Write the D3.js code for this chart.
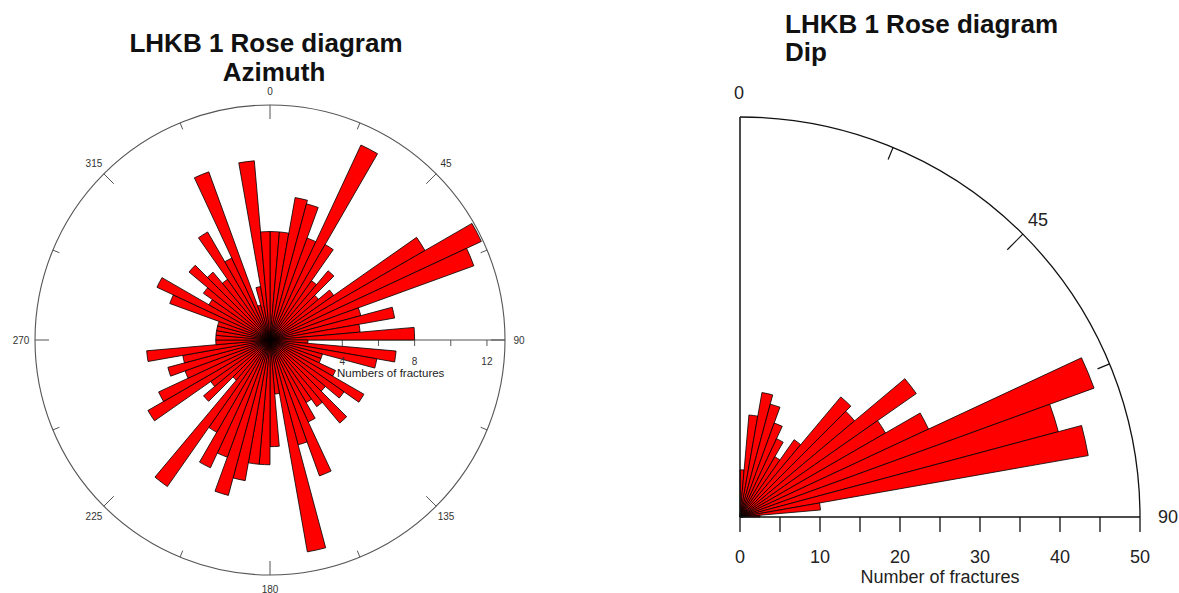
<!DOCTYPE html>
<html>
<head>
<meta charset="utf-8">
<script src="https://cdn.jsdelivr.net/npm/d3@7"></script>
<style>
  body { margin: 0; background: #fff; }
  svg { display: block; }
  text { font-family: "Liberation Sans", Arial, Helvetica, sans-serif; }
</style>
</head>
<body>
<svg id="chart" width="1179" height="593"></svg>
<script>
// ---- Azimuth rose: 5-degree bins, start angle of each bin (degrees from north) ----
const azimuthBins = [
  0, 5, 10, 15, 20, 25, 30, 35, 40, 45, 50, 55,
  60, 65, 70, 75, 80, 85, 90, 95, 100, 105, 110, 115,
  120, 125, 130, 135, 140, 145, 150, 155, 160, 165, 170, 175,
  180, 185, 190, 195, 200, 205, 210, 215, 220, 225, 230, 235,
  240, 245, 250, 255, 260, 265, 270, 275, 280, 285, 290, 295,
  300, 305, 310, 315, 320, 325, 330, 335, 340, 345, 350, 355
];
// Number of fractures in each azimuth bin
const azimuthCounts = [
  6.0, 6.0, 8.0, 7.8, 6.0, 11.9, 6.1, 4.0, 5.0, 3.5, 4.3, 9.9,
  12.9, 12.0, 5.2, 7.0, 5.0, 8.0, 2.1, 7.0, 6.0, 3.0, 3.0, 4.0,
  6.0, 5.0, 4.0, 6.0, 4.5, 4.0, 5.0, 8.0, 6.0, 11.9, 3.0, 5.9,
  6.9, 6.9, 7.9, 8.9, 6.9, 7.8, 5.9, 9.9, 2.9, 4.8, 4.0, 7.8,
  6.8, 5.0, 5.85, 4.9, 6.85, 3.0, 3.0, 3.0, 3.0, 3.0, 5.9, 6.9,
  3.9, 4.5, 5.85, 4.9, 4.1, 6.9, 5.0, 9.9, 2.0, 3.0, 9.95, 6.0
];
const azimuthBinWidth = 5;
const azimuthLabels = [0, 45, 90, 135, 180, 225, 270, 315];
const azimuthMinorTicks = [22.5, 67.5, 112.5, 157.5, 202.5, 247.5, 292.5, 337.5];
const countTicks = [4, 6, 8, 10, 12];
const countTickLabels = [4, 8, 12];

// ---- Dip rose: 5-degree bins from vertical (0) to horizontal (90) ----
const dipBins = [0, 5, 10, 15, 20, 25, 30, 35, 40, 45, 50, 55, 60, 65, 70, 75, 80, 85];
const dipCounts = [5.9, 12.8, 15.8, 14.6, 12.5, 10.8, 8.7, 11.8, 19.6, 18.7, 26.9, 21.0, 26.0, 47.1, 41.2, 44.2, 10.1, 2.5];
const dipBinWidth = 5;
const dipAngleLabels = [0, 45, 90];
const dipAngleTicks = [22.5, 45, 67.5];
const dipCountTicks = [0, 5, 10, 15, 20, 25, 30, 35, 40, 45, 50];
const dipCountLabels = [0, 10, 20, 30, 40, 50];

const svg = d3.select("#chart");
const rad = d => d * Math.PI / 180;

const BAR_FILL = "#ff0000";
const BAR_STROKE = "#000000";

// ================= Azimuth rose =================
(function () {
  const cx = 270, cy = 340, R = 235;
  const r = d3.scaleLinear().domain([0, 13]).range([0, R]);
  const g = svg.append("g").attr("transform", `translate(${cx},${cy})`);

  svg.append("text").attr("x", 266).attr("y", 52)
    .attr("text-anchor", "middle").attr("font-size", 26).attr("font-weight", "bold")
    .attr("fill", "#111").text("LHKB 1 Rose diagram");
  svg.append("text").attr("x", 274).attr("y", 81)
    .attr("text-anchor", "middle").attr("font-size", 26).attr("font-weight", "bold")
    .attr("fill", "#111").text("Azimuth");

  // outer circle
  g.append("circle").attr("r", R).attr("fill", "none")
    .attr("stroke", "#555").attr("stroke-width", 1.1);

  // angle ticks (pointing inward)
  const tickSet = azimuthLabels.map(a => ({ a, len: 14 }))
    .concat(azimuthMinorTicks.map(a => ({ a, len: 7 })));
  g.selectAll("line.atick").data(tickSet).join("line")
    .attr("class", "atick")
    .attr("x1", d => Math.sin(rad(d.a)) * R)
    .attr("y1", d => -Math.cos(rad(d.a)) * R)
    .attr("x2", d => Math.sin(rad(d.a)) * (R - d.len))
    .attr("y2", d => -Math.cos(rad(d.a)) * (R - d.len))
    .attr("stroke", "#555").attr("stroke-width", 1);

  g.selectAll("text.alab").data(azimuthLabels).join("text")
    .attr("class", "alab")
    .attr("x", d => Math.sin(rad(d)) * (R + 14))
    .attr("y", d => -Math.cos(rad(d)) * (R + 14))
    .attr("text-anchor", "middle").attr("dominant-baseline", "central")
    .attr("font-size", 10).attr("fill", "#333").text(d => d);

  // radial count axis along 90 degrees (drawn first, bars sit over it)
  g.append("line").attr("x1", r(0)).attr("x2", R).attr("y1", 0).attr("y2", 0)
    .attr("stroke", "#555").attr("stroke-width", 1.2);
  g.selectAll("line.ctick").data(countTicks).join("line")
    .attr("class", "ctick")
    .attr("x1", d => r(d)).attr("x2", d => r(d)).attr("y1", 0).attr("y2", 6)
    .attr("stroke", "#555").attr("stroke-width", 1);

  // bars
  const arc = d3.arc().innerRadius(0);
  g.selectAll("path.bar").data(azimuthBins.map((b, i) => ({ b, v: azimuthCounts[i] })))
    .join("path").attr("class", "bar")
    .attr("d", d => arc({ startAngle: rad(d.b), endAngle: rad(d.b + azimuthBinWidth), outerRadius: r(d.v) }))
    .attr("fill", BAR_FILL).attr("stroke", BAR_STROKE).attr("stroke-opacity", 0.8).attr("stroke-width", 1);

  g.selectAll("text.clab").data(countTickLabels).join("text")
    .attr("class", "clab")
    .attr("x", d => r(d)).attr("y", 25)
    .attr("text-anchor", "middle").attr("font-size", 10).attr("fill", "#333").text(d => d);
  g.append("text").attr("x", 67).attr("y", 37)
    .attr("font-size", 11.5).attr("fill", "#222").text("Numbers of fractures");
})();

// ================= Dip rose =================
(function () {
  const cx = 740, cy = 517, R = 400;
  const r = d3.scaleLinear().domain([0, 50]).range([0, R]);
  const g = svg.append("g").attr("transform", `translate(${cx},${cy})`);

  svg.append("text").attr("x", 785).attr("y", 33)
    .attr("font-size", 26).attr("font-weight", "bold").attr("fill", "#111")
    .text("LHKB 1 Rose diagram");
  svg.append("text").attr("x", 785).attr("y", 61)
    .attr("font-size", 26).attr("font-weight", "bold").attr("fill", "#111")
    .text("Dip");

  // bars
  const arc = d3.arc().innerRadius(0);
  g.selectAll("path.bar").data(dipBins.map((b, i) => ({ b, v: dipCounts[i] })))
    .join("path").attr("class", "bar")
    .attr("d", d => arc({ startAngle: rad(d.b), endAngle: rad(d.b + dipBinWidth), outerRadius: r(d.v) }))
    .attr("fill", BAR_FILL).attr("stroke", BAR_STROKE).attr("stroke-opacity", 0.8).attr("stroke-width", 1);

  // quarter arc and the two straight edges
  g.append("path")
    .attr("d", d3.arc()({ innerRadius: R, outerRadius: R, startAngle: 0, endAngle: Math.PI / 2 }))
    .attr("fill", "none").attr("stroke", "#111").attr("stroke-width", 1.3);
  g.append("line").attr("x1", 0).attr("y1", 0).attr("x2", 0).attr("y2", -R)
    .attr("stroke", "#111").attr("stroke-width", 1.5);
  g.append("line").attr("x1", 0).attr("y1", 0).attr("x2", R).attr("y2", 0)
    .attr("stroke", "#111").attr("stroke-width", 1.5);

  // angle ticks on the arc
  g.selectAll("line.atick").data(dipAngleTicks).join("line")
    .attr("class", "atick")
    .attr("x1", d => Math.sin(rad(d)) * R)
    .attr("y1", d => -Math.cos(rad(d)) * R)
    .attr("x2", d => Math.sin(rad(d)) * (R - (d === 45 ? 22 : 13)))
    .attr("y2", d => -Math.cos(rad(d)) * (R - (d === 45 ? 22 : 13)))
    .attr("stroke", "#111").attr("stroke-width", 1.2);

  // angle labels
  const angleLabelPos = { 0: [-1, -424], 45: [298, -297], 90: [428, 0] };
  g.selectAll("text.alab").data(dipAngleLabels).join("text")
    .attr("class", "alab")
    .attr("x", d => angleLabelPos[d][0]).attr("y", d => angleLabelPos[d][1])
    .attr("text-anchor", "middle").attr("dominant-baseline", "central")
    .attr("font-size", 18).attr("fill", "#222").text(d => d);

  // count axis ticks and labels
  g.selectAll("line.ctick").data(dipCountTicks).join("line")
    .attr("class", "ctick")
    .attr("x1", d => r(d)).attr("x2", d => r(d)).attr("y1", 0).attr("y2", 15)
    .attr("stroke", "#111").attr("stroke-width", 1.3);
  g.selectAll("text.clab").data(dipCountLabels).join("text")
    .attr("class", "clab")
    .attr("x", d => r(d)).attr("y", 46)
    .attr("text-anchor", "middle").attr("font-size", 18).attr("fill", "#222").text(d => d);
  g.append("text").attr("x", r(25)).attr("y", 66)
    .attr("text-anchor", "middle").attr("font-size", 18).attr("fill", "#222")
    .text("Number of fractures");
})();
</script>
</body>
</html>
